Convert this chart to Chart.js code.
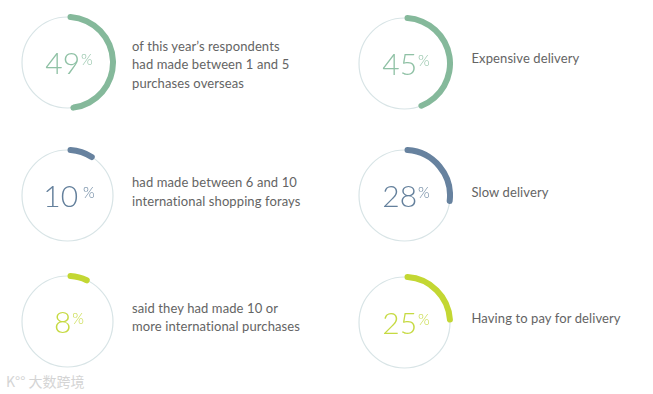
<!DOCTYPE html>
<html>
<head>
<meta charset="utf-8">
<script src="https://cdn.jsdelivr.net/npm/chart.js@4/dist/chart.umd.min.js"></script>
<style>
  html, body { margin: 0; padding: 0; background: #fff; }
  #stage { position: relative; width: 653px; height: 394px; overflow: hidden; }
  .ring { position: absolute; width: 97px; height: 97px; }
  .label {
    position: absolute;
    font-family: Lato, "Open Sans", sans-serif;
    font-size: 13px;
    line-height: 18.5px;
    color: #646464;
    letter-spacing: 0.1px;
    white-space: nowrap;
  }
  .mark {
    position: absolute; left: 6px; top: 371px;
    font-family: "Noto Sans CJK SC", sans-serif;
    font-size: 14px; color: #d4d4d4;
  }
</style>
</head>
<body>
<div id="stage"></div>
<script>
"use strict";

// Survey values, one per ring (percent)
const VALUES = [49, 10, 8, 45, 28, 25];

// Caption next to each ring
const CAPTIONS = [
  ["of this year\u2019s respondents", "had made between 1 and 5", "purchases overseas"],
  ["had made between 6 and 10", "international shopping forays"],
  ["said they had made 10 or", "more international purchases"],
  ["Expensive delivery"],
  ["Slow delivery"],
  ["Having to pay for delivery"]
];

// Colour theme per ring
const THEMES = ["green", "blue", "lime", "green", "blue", "lime"];

const RING_COLORS = {
  green: { arc: "#85b99b", text: "#8fc1a5" },
  blue:  { arc: "#67829f", text: "#64809c" },
  lime:  { arc: "#c3d733", text: "#c6da42" }
};
const TRACK_COLOR = "#d8e4e6";

// Layout: ring centres and caption boxes
const CENTERS = [[67, 62.5], [67, 195.5], [67, 321], [404, 63], [404, 195.5], [404, 322]];
const LABEL_POS = [[132, 36.5], [132, 173], [132, 298.5], [471.5, 49], [471.5, 182.7], [471.5, 309]];
const RING_SIZE = 97;

const NUM_FONT = "300 30px Lato, 'Open Sans', sans-serif";
const PCT_FONT = "300 15px Lato, 'Open Sans', sans-serif";

// Thin track circle + centred percentage, drawn from the arc element geometry
const ringPlugin = {
  id: "ringDecor",
  beforeDatasetsDraw(chart) {
    const arc = chart.getDatasetMeta(0).data[0];
    const ctx = chart.ctx;
    const r = (arc.innerRadius + arc.outerRadius) / 2;
    ctx.save();
    ctx.beginPath();
    ctx.arc(arc.x, arc.y, r, 0, Math.PI * 2);
    ctx.strokeStyle = TRACK_COLOR;
    ctx.lineWidth = 1.2;
    ctx.stroke();
    ctx.restore();
  },
  afterDatasetsDraw(chart, args, opts) {
    const arc = chart.getDatasetMeta(0).data[0];
    const ctx = chart.ctx;
    const num = String(opts.value);
    ctx.save();
    ctx.fillStyle = opts.color;
    ctx.textBaseline = "alphabetic";
    ctx.font = NUM_FONT;
    const wNum = ctx.measureText(num).width;
    ctx.font = PCT_FONT;
    const wPct = ctx.measureText("%").width;
    const gap = opts.value === 10 ? 5 : 1;
    const x0 = arc.x - (wNum + gap + wPct) / 2 + 1.5;
    const base = arc.y + 11.5;
    ctx.font = NUM_FONT;
    ctx.fillText(num, x0, base);
    ctx.font = PCT_FONT;
    ctx.fillText("%", x0 + wNum + gap, base - 9.5);
    ctx.restore();
  }
};

function renderRing(stage, i) {
  const [cx, cy] = CENTERS[i];
  const theme = RING_COLORS[THEMES[i]];
  const box = document.createElement("div");
  box.className = "ring";
  box.style.left = (cx - RING_SIZE / 2) + "px";
  box.style.top = (cy - RING_SIZE / 2) + "px";
  const canvas = document.createElement("canvas");
  box.appendChild(canvas);
  stage.appendChild(box);

  new Chart(canvas.getContext("2d"), {
    type: "doughnut",
    data: {
      labels: ["value", "rest"],
      datasets: [{
        data: [VALUES[i], 100 - VALUES[i]],
        backgroundColor: [theme.arc, "rgba(0,0,0,0)"],
        borderWidth: 0,
        borderRadius: [3, 0]
      }]
    },
    options: {
      responsive: true,
      maintainAspectRatio: false,
      animation: false,
      cutout: RING_SIZE / 2 - 6,
      layout: { padding: 0 },
      events: [],
      plugins: {
        legend: { display: false },
        tooltip: { enabled: false },
        ringDecor: { value: VALUES[i], color: theme.text }
      }
    },
    plugins: [ringPlugin]
  });
}

function renderCaption(stage, i) {
  const el = document.createElement("div");
  el.className = "label";
  el.style.left = LABEL_POS[i][0] + "px";
  el.style.top = LABEL_POS[i][1] + "px";
  el.innerHTML = CAPTIONS[i].join("<br>");
  stage.appendChild(el);
}

const stage = document.getElementById("stage");
VALUES.forEach((v, i) => {
  renderRing(stage, i);
  renderCaption(stage, i);
});

// faint source watermark in the corner
const mark = document.createElement("div");
mark.className = "mark";
mark.textContent = "K\u00b0\u00b0 大数跨境";
stage.appendChild(mark);
</script>
</body>
</html>
